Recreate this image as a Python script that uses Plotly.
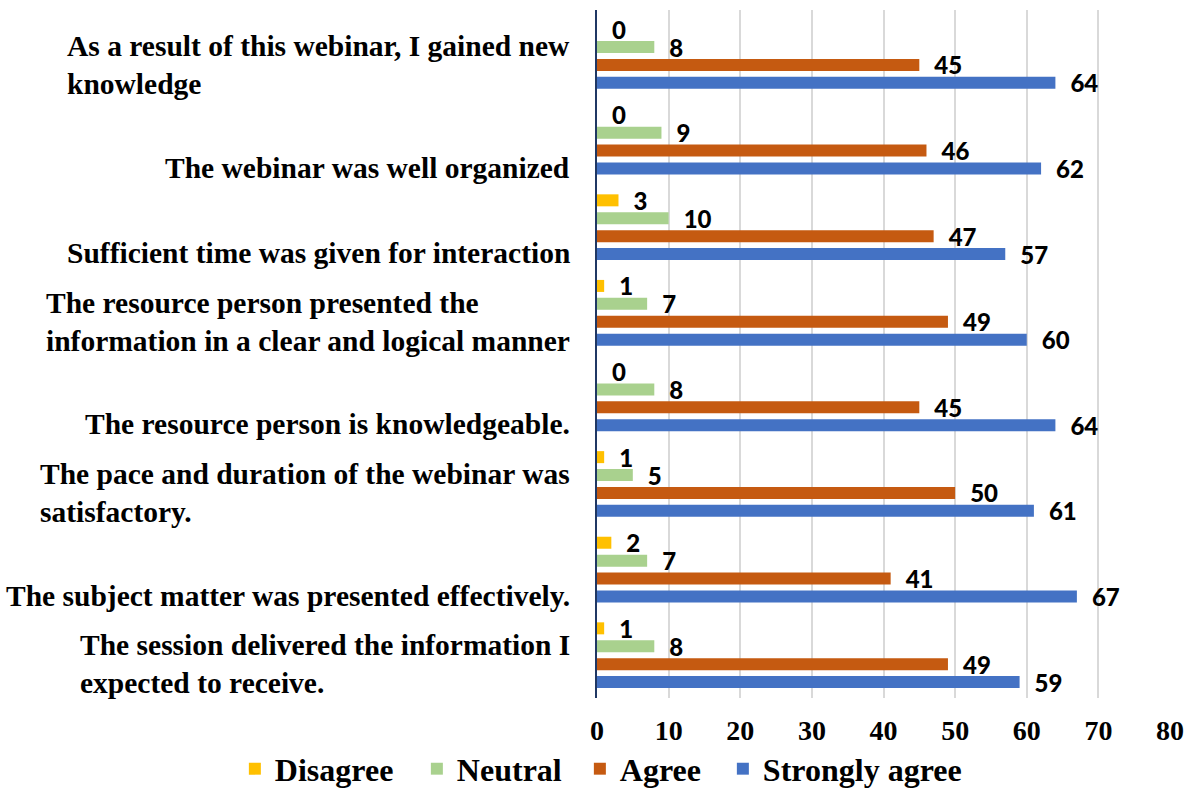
import plotly.graph_objects as go

categories = [
    "As a result of this webinar, I gained new<br>knowledge",
    "The webinar was well organized",
    "Sufficient time was given for interaction",
    "The resource person presented the<br>information in a clear and logical manner",
    "The resource person is knowledgeable.",
    "The pace and duration of the webinar was<br>satisfactory.",
    "The subject matter was presented effectively.",
    "The session delivered the information I<br>expected to receive.",
]
disagree = [0, 0, 3, 1, 0, 1, 2, 1]
neutral = [8, 9, 10, 7, 8, 5, 7, 8]
agree = [45, 46, 47, 49, 45, 50, 41, 49]
strongly_agree = [64, 62, 57, 60, 64, 61, 67, 59]
x_ticks = [0, 10, 20, 30, 40, 50, 60, 70, 80]

series = [
    ("Disagree", disagree, "#FFC000", 137),
    ("Neutral", neutral, "#A9D18E", 118),
    ("Agree", agree, "#C55A11", 98),
    ("Strongly agree", strongly_agree, "#4472C4", None),
]

fig = go.Figure()
for name, vals, color, lw in series:
    fig.add_trace(go.Bar(
        name=name, x=vals, y=categories, orientation="h",
        marker=dict(color=color, line=dict(width=0)),
        text=vals, texttemplate="\u2002%{x}", textposition="outside",
        constraintext="none", cliponaxis=False, legendwidth=lw,
        textfont=dict(family="Lato", size=24, color="black", weight=900),
    ))

for cat in categories:
    fig.add_annotation(
        x=0, xref="paper", y=cat, yref="y",
        text=cat, showarrow=False, xanchor="right", yanchor="middle",
        align="left", xshift=-25, yshift=(-9 if "<br>" in cat else -26),
        font=dict(family="Liberation Serif", size=29.5, color="black", weight=700),
    )

fig.update_layout(
    width=1198, height=788,
    margin=dict(l=597, r=28, t=10, b=90, autoexpand=False),
    paper_bgcolor="white", plot_bgcolor="white",
    barmode="group", bargap=0.163, bargroupgap=0.33,
    showlegend=True,
    legend=dict(orientation="h", x=-0.632, xanchor="left",
                y=-0.103, yanchor="middle",
                font=dict(family="Liberation Serif", size=32, color="black", weight=700),
                traceorder="normal", bgcolor="rgba(0,0,0,0)"),
    xaxis=dict(range=[0, 80], tickvals=x_ticks, showgrid=True, gridcolor="#D9D9D9",
               gridwidth=1.5, zeroline=False, showline=False,
               ticks="outside", ticklen=7, tickcolor="rgba(0,0,0,0)",
               tickfont=dict(family="Liberation Serif", size=28, color="black", weight=700)),
    yaxis=dict(autorange="reversed", showticklabels=False, showgrid=False,
               showline=True, linecolor="#203864", linewidth=2, ticks=""),
)

fig.write_html("out.html", config={"displayModeBar": False},
               post_script="document.body.style.margin='0';")
